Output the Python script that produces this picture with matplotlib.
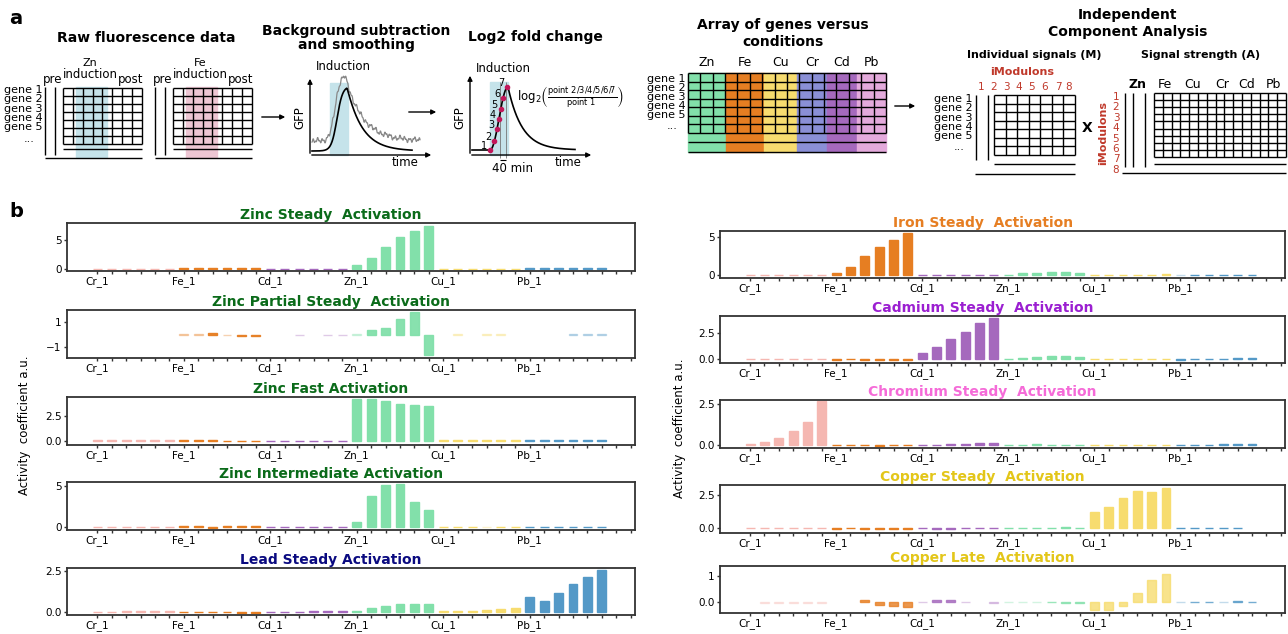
import numpy as np
import matplotlib
matplotlib.use('Agg')
import matplotlib.pyplot as plt
from matplotlib.colors import to_rgba

# ---- data for panel b ----
groups = ['Cr', 'Fe', 'Cd', 'Zn', 'Cu', 'Pb']
conditions = [g + '_' + str(i) for g in groups for i in range(1, 7)]
nan = np.nan

zinc_steady = [0.05, 0.05, 0.05, 0.05, 0.05, 0.05,
               0.08, 0.08, 0.08, 0.08, 0.08, 0.08,
               0.06, 0.06, 0.06, 0.06, 0.06, 0.06,
               0.6, 1.8, 3.7, 5.5, 6.6, 7.4,
               0.05, 0.05, 0.05, 0.05, 0.05, 0.05,
               0.1, 0.1, 0.1, 0.12, 0.15, 0.25]
zinc_partial = [nan, nan, nan, nan, nan, nan,
                0.04, 0.03, 0.1, -0.05, -0.1, -0.15,
                nan, nan, -0.02, nan, -0.02, -0.02,
                0.08, 0.35, 0.5, 1.25, 1.8, -1.65,
                nan, 0.06, nan, 0.03, 0.03, nan,
                nan, nan, nan, 0.02, 0.02, 0.02]
zinc_fast = [0.02, 0.02, 0.02, 0.02, 0.02, 0.02,
             0.02, 0.02, 0.02, -0.06, -0.06, -0.06,
             -0.02, -0.02, -0.02, -0.02, -0.02, -0.02,
             4.17, 4.17, 3.97, 3.67, 3.57, 3.47,
             0.03, 0.03, 0.03, 0.03, 0.03, 0.03,
             0.04, 0.04, 0.04, 0.04, 0.04, 0.04]
zinc_intermediate = [0.02, 0.02, 0.02, 0.02, 0.02, 0.02,
                     0.03, 0.03, -0.1, 0.03, 0.03, 0.03,
                     0.02, 0.02, 0.02, 0.02, 0.02, 0.02,
                     0.6, 3.7, 5.05, 5.25, 3.0, 2.0,
                     0.02, 0.02, 0.02, 0.01, 0.02, 0.02,
                     0.02, 0.02, 0.02, 0.02, 0.02, 0.02]
lead_steady = [0.01, 0.01, 0.02, 0.05, 0.07, 0.07,
               0.01, 0.01, 0.01, 0.01, -0.05, -0.07,
               0.01, 0.01, 0.01, 0.07, 0.05, 0.05,
               0.07, 0.25, 0.38, 0.5, 0.5, 0.5,
               0.07, 0.05, 0.07, 0.08, 0.15, 0.2,
               0.9, 0.65, 1.15, 1.7, 2.1, 2.55]
iron_steady = [0.02, 0.02, 0.02, 0.02, 0.02, 0.02,
               0.3, 1.1, 2.5, 3.7, 4.7, 5.6,
               0.05, 0.05, 0.05, 0.05, 0.05, 0.05,
               0.05, 0.3, 0.3, 0.4, 0.4, 0.3,
               0.02, 0.02, 0.02, 0.02, 0.02, 0.15,
               0.02, 0.04, 0.04, 0.04, 0.04, 0.04]
cadmium_steady = [0.01, 0.01, 0.02, 0.02, 0.03, 0.03,
                  -0.02, 0.05, -0.03, -0.03, -0.05, -0.1,
                  0.55, 1.2, 1.9, 2.6, 3.35, 3.9,
                  0.05, 0.15, 0.25, 0.3, 0.3, 0.2,
                  0.01, 0.01, 0.01, 0.01, 0.01, 0.01,
                  -0.05, 0.02, 0.02, 0.03, 0.1, 0.12]
chromium_steady = [0.1, 0.2, 0.45, 0.85, 1.4, 2.65,
                   0.02, 0.02, 0.02, -0.03, 0.03, 0.03,
                   0.03, 0.03, 0.08, 0.08, 0.15, 0.15,
                   0.02, 0.02, 0.08, 0.02, 0.02, 0.02,
                   0.02, 0.02, 0.02, 0.02, 0.02, 0.02,
                   0.03, 0.03, 0.03, 0.08, 0.08, 0.08]
copper_steady = [0.01, 0.01, 0.01, 0.01, 0.01, 0.01,
                 -0.05, 0.02, -0.1, -0.08, -0.08, -0.1,
                 -0.02, -0.05, -0.05, 0.01, 0.01, 0.01,
                 0.01, 0.01, 0.01, 0.01, 0.05, 0.01,
                 1.2, 1.6, 2.3, 2.85, 2.75, 3.05,
                 0.01, 0.01, 0.01, 0.01, 0.01, nan]
copper_late = [nan, -0.01, -0.01, -0.01, -0.01, -0.01,
               nan, nan, 0.08, -0.1, -0.13, -0.18,
               0.01, 0.08, 0.1, 0.03, nan, -0.01,
               0.01, 0.01, 0.01, 0.02, -0.03, -0.03,
               -0.27, -0.3, -0.14, 0.36, 0.87, 1.1,
               0.01, 0.02, 0.03, 0.01, 0.04, 0.03]

# weakly supported bars (drawn pale)
weak = {
    'zinc_partial': ['Fe_1', 'Fe_2', 'Fe_4', 'Cd_3', 'Cd_5', 'Cd_6', 'Zn_1',
                     'Cu_2', 'Cu_4', 'Cu_5', 'Pb_4', 'Pb_5', 'Pb_6'],
    'zinc_intermediate': ['Cu_4'],
    'iron_steady': ['Pb_1'],
    'copper_late': ['Cr_2', 'Cr_3', 'Cr_4', 'Cr_5', 'Cr_6', 'Cd_1', 'Cd_4',
                    'Cd_6', 'Zn_1', 'Zn_2', 'Zn_3', 'Pb_1', 'Pb_4'],
}

group_colors = {'Cr': '#F5B7B1', 'Fe': '#E67E22', 'Cd': '#A569BD',
                'Zn': '#82E0AA', 'Cu': '#F7DC6F', 'Pb': '#5499C7'}

W, H = 1288, 634
fig = plt.figure(figsize=(W / 100, H / 100), dpi=100)


def px_axes(x0, y0, x1, y1):
    # axes rectangle given in pixel coords (top-left origin)
    return fig.add_axes([x0 / W, 1 - y1 / H, (x1 - x0) / W, (y1 - y0) / H])


def bar_panel(box, values, key, title, tcolor, yticks, ylabels, ylim, base_alpha=1.0):
    ax = px_axes(*box)
    x = np.arange(len(conditions))
    vals = np.array(values, dtype=float)
    pale = weak.get(key, [])
    keep = ~np.isnan(vals)
    cols = [to_rgba(group_colors[c.split('_')[0]], 0.35 if c in pale else base_alpha)
            for c in conditions]
    cols = [c for c, k in zip(cols, keep) if k]
    ax.bar(x[keep], vals[keep], 0.62, color=cols, edgecolor=cols, linewidth=1.0)
    ax.set_xlim(-2.1, 37.3)
    ax.set_ylim(*ylim)
    ax.set_xticks(np.arange(38))
    ax.set_xticklabels([conditions[i] if i < 36 and i % 6 == 0 else '' for i in range(38)])
    ax.set_yticks(yticks)
    ax.set_yticklabels(ylabels)
    ax.tick_params(labelsize=7.5, length=2.5, width=1, pad=1.5, color='#333333')
    for s in ax.spines.values():
        s.set_linewidth(1.3)
        s.set_color('#333333')
    ax.set_title(title, color=tcolor, fontsize=10, fontweight='bold', x=0.465, pad=3)
    return ax


green = '#0B6B1A'
bar_panel((67, 223, 635, 271), zinc_steady, 'zinc_steady', 'Zinc Steady  Activation', green,
          [0, 5], ['0', '5'], (-0.35, 7.9))
bar_panel((67, 310, 635, 358), zinc_partial, 'zinc_partial', 'Zinc Partial Steady  Activation', green,
          [-1, 1], ['\u22121', '1'], (-1.88, 1.96), base_alpha=0.95)
bar_panel((67, 397, 635, 445), zinc_fast, 'zinc_fast', 'Zinc Fast Activation', green,
          [0, 2.5], ['0.0', '2.5'], (-0.43, 4.34))
bar_panel((67, 482, 635, 530), zinc_intermediate, 'zinc_intermediate', 'Zinc Intermediate Activation', green,
          [0, 5], ['0', '5'], (-0.4, 5.45))
bar_panel((67, 568, 635, 615), lead_steady, 'lead_steady', 'Lead Steady Activation', '#0A0A80',
          [0, 2.5], ['0.0', '2.5'], (-0.2, 2.68))

bar_panel((720, 231, 1285, 278), iron_steady, 'iron_steady', 'Iron Steady  Activation', '#E67E22',
          [0, 5], ['0', '5'], (-0.4, 5.83))
bar_panel((720, 316, 1285, 363), cadmium_steady, 'cadmium_steady', 'Cadmium Steady  Activation', '#9B1FD1',
          [0, 2.5], ['0.0', '2.5'], (-0.34, 4.05))
bar_panel((720, 400, 1285, 448), chromium_steady, 'chromium_steady', 'Chromium Steady  Activation', '#F56BD8',
          [0, 2.5], ['0.0', '2.5'], (-0.16, 2.74))
bar_panel((720, 485, 1285, 533), copper_steady, 'copper_steady', 'Copper Steady  Activation', '#E3C619',
          [0, 2.5], ['0.0', '2.5'], (-0.38, 3.28))
bar_panel((720, 566, 1285, 613), copper_late, 'copper_late', 'Copper Late  Activation', '#E3C619',
          [0, 1], ['0.0', '1'], (-0.4, 1.39), base_alpha=0.8)

fig.text(25 / W, 1 - 425 / H, 'Activity  coefficient a.u.', rotation=90, ha='center', va='center', fontsize=8.5)
fig.text(680 / W, 1 - 428 / H, 'Activity  coefficient a.u.', rotation=90, ha='center', va='center', fontsize=8.5)

# ---- panel a: schematic drawn on an overlay in pixel coordinates ----
ov = fig.add_axes([0, 0, 1, 1], zorder=-1)
ov.set_xlim(0, W)
ov.set_ylim(H, 0)
ov.axis('off')

fig.text(16 / W, 1 - 18 / H, 'a', fontsize=14, fontweight='bold', ha='center', va='center')
fig.text(16 / W, 1 - 212 / H, 'b', fontsize=14, fontweight='bold', ha='center', va='center')

bold = dict(fontsize=10, fontweight='bold', ha='center', va='center')
ov.text(146, 38, 'Raw fluorescence data', **bold)
ov.text(356, 31, 'Background subtraction', **bold)
ov.text(356, 45, 'and smoothing', **bold)
ov.text(535, 37, 'Log2 fold change', **bold)
ov.text(783, 25, 'Array of genes versus', **bold)
ov.text(783, 42, 'conditions', **bold)
ov.text(1128, 15, 'Independent', **bold)
ov.text(1128, 32, 'Component Analysis', **bold)


def hline(y, x0, x1, lw=1.0, color='k'):
    ov.plot([x0, x1], [y, y], color=color, lw=lw, solid_capstyle='butt')


def vline(x, y0, y1, lw=1.0, color='k'):
    ov.plot([x, x], [y0, y1], color=color, lw=lw, solid_capstyle='butt')


def grid(x0, x1, y0, y1, nx, ny, lw=1.0):
    for xx in np.linspace(x0, x1, nx):
        vline(xx, y0, y1, lw)
    for yy in np.linspace(y0, y1, ny):
        hline(yy, x0, x1, lw)


def gene_labels(xr, y0, dy, fs=8):
    for i in range(5):
        ov.text(xr, y0 + i * dy, 'gene ' + str(i + 1), fontsize=fs, ha='right', va='center')
    ov.text(xr - 14, y0 + 5 * dy + 2, '...', fontsize=fs, ha='center', va='center')


# raw fluorescence grids
for off, metal, shade in [(0, 'Zn', '#C5E3EA'), (110, 'Fe', '#EDC6D3')]:
    ov.add_patch(plt.Rectangle((76 + off, 87), 31, 70, color=shade, zorder=0))
    grid(63 + off, 142 + off, 88, 144, 9, 8)
    vline(45 + off, 87, 155)
    vline(55 + off, 87, 155)
    hline(149, 63 + off, 142 + off)
    hline(158, 45 + off, 142 + off)
    ov.text(53 + off, 79, 'pre', fontsize=8.5, ha='center', va='center')
    ov.text(131 + off, 79, 'post', fontsize=8.5, ha='center', va='center')
    ov.text(90 + off, 63, metal, fontsize=8, ha='center', va='center')
    ov.text(90 + off, 75, 'induction', fontsize=8.5, ha='center', va='center')
gene_labels(43, 90, 9.3)

arrow = dict(arrowstyle='-|>', lw=1.0, color='k', mutation_scale=7)
ov.annotate('', xy=(288, 117), xytext=(259, 117), arrowprops=arrow)
ov.annotate('', xy=(439, 112), xytext=(406, 112), arrowprops=arrow)
ov.annotate('', xy=(918, 106), xytext=(892, 106), arrowprops=arrow)


def pulse(x, x_on, width, x_peak, tau, base, top):
    rise = 1 / (1 + np.exp(-(x - x_on) / width))
    rise_pk = 1 / (1 + np.exp(-(x_peak - x_on) / width))
    fall = np.where(x > x_peak, np.exp(-(x - x_peak) / tau), 1.0)
    return base - (base - top) * rise / rise_pk * fall


def step_pulse(x, x0, x_peak, tau, base, top):
    t = np.clip((x - x0) / (x_peak - x0), 0, 1)
    rise = (1 - np.cos(np.pi * t)) / 2
    fall = np.where(x > x_peak, np.exp(-(x - x_peak) / tau), 1.0)
    return base - (base - top) * rise * fall


# background subtraction sketch
ov.add_patch(plt.Rectangle((330, 83), 18, 72, color='#C5E3EA', zorder=0))
ov.annotate('', xy=(310, 76), xytext=(310, 156), arrowprops=arrow)
ov.annotate('', xy=(434, 155), xytext=(309, 155), arrowprops=arrow)
xs = np.linspace(312, 420, 300)
wig = 1.6 * np.sin(xs * 1.3) + 1.1 * np.sin(xs * 2.9 + 1) + 0.8 * np.sin(xs * 0.45)
gray = pulse(xs, 335, 2.6, 345, 17, 141, 76) + wig
ov.plot(xs, gray, color='#888888', lw=0.9)
xb = np.linspace(312, 412, 200)
ov.plot(xb, pulse(xb, 337, 2.8, 347, 15, 151, 88), color='k', lw=1.2)
ov.text(300, 118, 'GFP', rotation=90, fontsize=8.5, ha='center', va='center')
ov.text(343, 66, 'Induction', fontsize=8.5, ha='center', va='center')
ov.text(405, 163, 'time', fontsize=8.5, ha='center', va='center')

# log2 fold change sketch
ov.add_patch(plt.Rectangle((490, 82), 18, 73, color='#C5E3EA', zorder=0))
vline(500, 82, 158, lw=0.6, color='#777777')
vline(506, 82, 158, lw=0.6, color='#777777')
ov.annotate('', xy=(470, 73), xytext=(470, 156), arrowprops=arrow)
ov.annotate('', xy=(594, 155), xytext=(469, 155), arrowprops=arrow)
xl = np.linspace(490, 575, 250)
ov.plot([472, 490], [150, 150], color='k', lw=1.2)
ov.plot(xl, step_pulse(xl, 490, 508, 14, 150, 87), color='k', lw=1.2)
px = np.array([490.5, 494.5, 497.0, 499.0, 500.8, 503.0, 507.5])
py = step_pulse(px, 490, 508, 14, 150, 87)
ov.scatter(px, py, s=9, color='#C2185B', zorder=5)
for i, (a, b) in enumerate(zip(px, py)):
    ov.text(a - 6, b - 4, str(i + 1), fontsize=7, ha='center', va='center')
hline(160, 500, 506, lw=0.8)
ov.text(513, 169, '40 min', fontsize=8.5, ha='center', va='center')
ov.text(568, 163, 'time', fontsize=8.5, ha='center', va='center')
ov.text(460, 118, 'GFP', rotation=90, fontsize=8.5, ha='center', va='center')
ov.text(503, 68, 'Induction', fontsize=8.5, ha='center', va='center')
ov.text(517, 97, r'$\log_2\!\left(\frac{\mathrm{point\ 2/3/4/5/6/7}}{\mathrm{point\ 1}}\right)$',
        fontsize=8.5, ha='left', va='center')

# array of genes versus conditions
array_cols = [('Zn', '#82E0AA', 688, 726), ('Fe', '#E67E22', 726, 764), ('Cu', '#F7DC6F', 764, 797),
              ('Cr', '#8A8FD6', 797, 827), ('Cd', '#A569BD', 827, 857), ('Pb', '#E4AADC', 857, 886)]
for name, col, a, b in array_cols:
    ov.add_patch(plt.Rectangle((a, 73), b - a, 79, color=col, zorder=0))
    ov.text((a + b) / 2, 62, name, fontsize=9, ha='center', va='center')
grid(688, 886, 73, 133, 17, 8)
hline(142, 688, 886)
hline(152, 688, 886)
gene_labels(686, 79, 9)

# ICA: M matrix
ov.text(1034, 55, 'Individual signals (M)', fontsize=8, fontweight='bold', ha='center', va='center')
ov.text(1201, 55, 'Signal strength (A)', fontsize=8, fontweight='bold', ha='center', va='center')
red = '#C0392B'
ov.text(1022, 72, 'iModulons', fontsize=8, fontweight='bold', color=red, ha='center', va='center')
for i, xx in enumerate([981, 994, 1006, 1019, 1032, 1045, 1058, 1069]):
    ov.text(xx, 87, str(i + 1), fontsize=7.5, color=red, ha='center', va='center')
vline(976, 95, 160)
vline(988, 95, 160)
grid(994, 1075, 95, 155, 8, 8)
hline(164, 994, 1075)
hline(174, 975, 1075)
gene_labels(973, 99, 9.3)
ov.text(1087, 128, 'X', fontsize=10, fontweight='bold', ha='center', va='center')

# ICA: A matrix
ov.text(1103, 133, 'iModulons', rotation=90, fontsize=8, fontweight='bold', color=red, ha='center', va='center')
for i in range(8):
    ov.text(1116, 97 + i * 10.4, str(i + 1), fontsize=7.5, color=red, ha='center', va='center')
ov.text(1138, 84, 'Zn', fontsize=9, fontweight='bold', ha='center', va='center')
for name, xx in [('Fe', 1165), ('Cu', 1193), ('Cr', 1222), ('Cd', 1247), ('Pb', 1273)]:
    ov.text(xx, 84, name, fontsize=9, ha='center', va='center')
for xx in [1125, 1133, 1145]:
    vline(xx, 93, 167)
grid(1154, 1286, 93, 157, 16, 10)
hline(164, 1154, 1286)
hline(173, 1122, 1286)

fig.savefig('out.png', dpi=100)
